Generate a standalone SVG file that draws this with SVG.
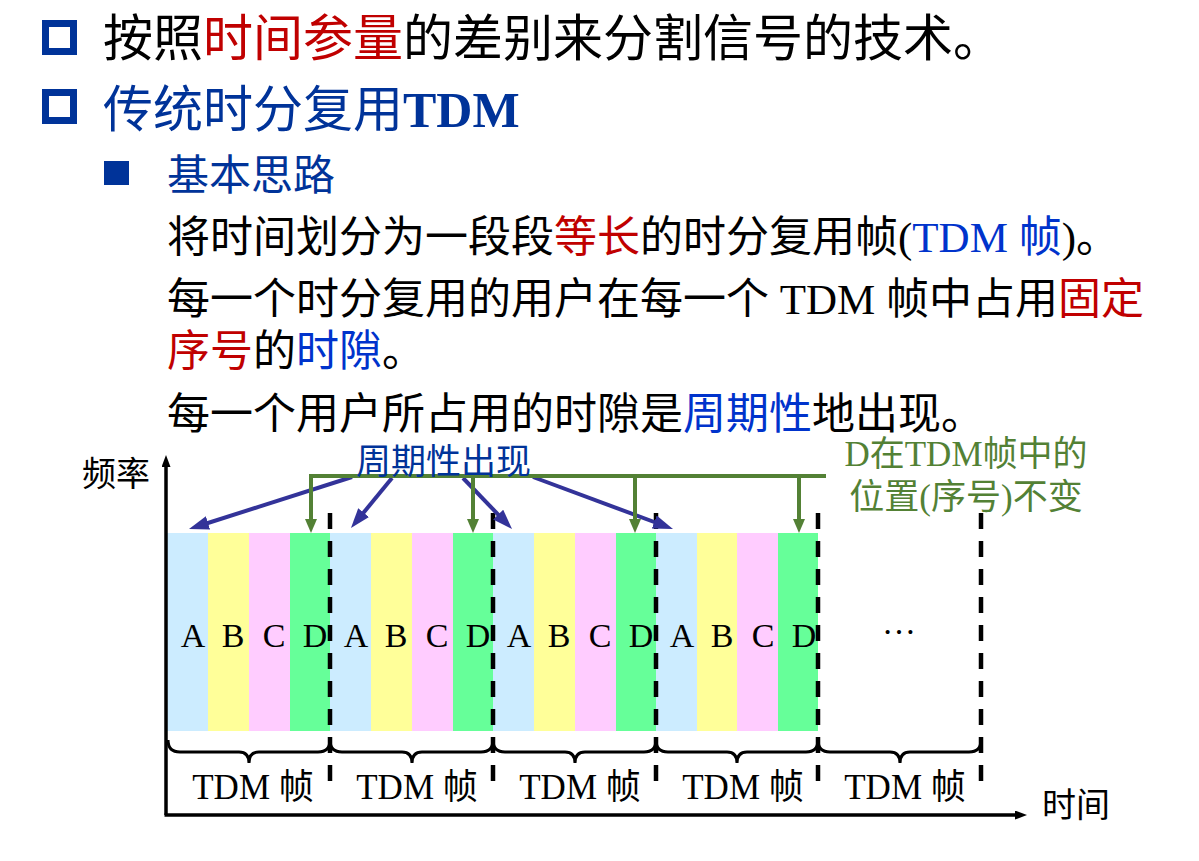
<svg xmlns="http://www.w3.org/2000/svg" width="1199" height="861" viewBox="0 0 1199 861">
<style>
.t{font-family:"Liberation Serif","Noto Sans CJK SC",serif;}
.h1{font-size:50px;}
.b{font-size:43px;fill:#000;}
.red{fill:#C00000;}
.dblue{fill:#003399;}
.lblue{fill:#0033CC;}
.slot{stroke:none;}
.sa{fill:#CCECFF;}.sb{fill:#FFFF99;}.sc{fill:#FFCCFF;}.sd{fill:#66FF99;}
.lbl{font-size:34px;fill:#000;text-anchor:middle;}
.fr{font-size:35px;fill:#000;text-anchor:middle;}
.dash{stroke:#000;stroke-width:4.5;stroke-dasharray:16 12;fill:none;}
.brace{stroke:#000;stroke-width:3;fill:none;}
.axis{stroke:#000;stroke-width:3.5;fill:none;}
.barr{stroke:#333399;stroke-width:4;fill:none;}
.garr{stroke:#538135;stroke-width:4;fill:none;}
</style>
<defs>
<marker id="mb" viewBox="0 0 20 14" refX="10" refY="7" markerWidth="20" markerHeight="14" markerUnits="userSpaceOnUse" orient="auto"><path d="M0,0 L20,7 L0,14 z" fill="#333399"/></marker>
<marker id="mg" viewBox="0 0 14 12" refX="7" refY="6" markerWidth="14" markerHeight="12" markerUnits="userSpaceOnUse" orient="auto"><path d="M0,0 L14,6 L0,12 z" fill="#538135"/></marker>
<marker id="mk" viewBox="0 0 12 9" refX="4" refY="4.5" markerWidth="12" markerHeight="9" markerUnits="userSpaceOnUse" orient="auto"><path d="M0,0 L12,4.5 L0,9 z" fill="#000"/></marker>
</defs>

<g id="bullets">
<rect x="45.5" y="23.5" width="28" height="28" fill="none" stroke="#003399" stroke-width="7"/>
<rect x="45.5" y="92.5" width="28" height="28" fill="none" stroke="#003399" stroke-width="7"/>
<rect x="104" y="161" width="25" height="24" fill="#003399"/>
</g>

<g id="text">
<text class="t h1" x="103" y="56">按照<tspan class="red">时间参量</tspan>的差别来分割信号的技术。</text>
<text class="t h1 dblue" x="103" y="127">传统时分复用<tspan font-weight="bold">TDM</tspan></text>
<text class="t dblue" font-size="42" x="167" y="190">基本思路</text>
<text class="t b" x="167" y="252">将时间划分为一段段<tspan class="red">等长</tspan>的时分复用帧(<tspan class="lblue">TDM 帧</tspan>)。</text>
<text class="t b" x="167" y="314">每一个时分复用的用户在每一个 TDM 帧中占用<tspan class="red">固定</tspan></text>
<text class="t b" x="167" y="366"><tspan class="red">序号</tspan>的<tspan class="lblue">时隙</tspan>。</text>
<text class="t b" x="167" y="429">每一个用户所占用的时隙是<tspan class="lblue">周期性</tspan>地出现。</text>
</g>

<g id="slots">
<rect class="slot sa" x="167" y="533" width="41" height="198"/>
<rect class="slot sb" x="208" y="533" width="41" height="198"/>
<rect class="slot sc" x="249" y="533" width="41" height="198"/>
<rect class="slot sd" x="290" y="533" width="40" height="198"/>
<rect class="slot sa" x="330" y="533" width="41" height="198"/>
<rect class="slot sb" x="371" y="533" width="41" height="198"/>
<rect class="slot sc" x="412" y="533" width="41" height="198"/>
<rect class="slot sd" x="453" y="533" width="40" height="198"/>
<rect class="slot sa" x="493" y="533" width="41" height="198"/>
<rect class="slot sb" x="534" y="533" width="41" height="198"/>
<rect class="slot sc" x="575" y="533" width="41" height="198"/>
<rect class="slot sd" x="616" y="533" width="40" height="198"/>
<rect class="slot sa" x="656" y="533" width="41" height="198"/>
<rect class="slot sb" x="697" y="533" width="40" height="198"/>
<rect class="slot sc" x="737" y="533" width="41" height="198"/>
<rect class="slot sd" x="778" y="533" width="40" height="198"/>
</g>

<g id="slot-labels" class="t">
<text class="lbl" x="193" y="647">A</text><text class="lbl" x="233" y="647">B</text><text class="lbl" x="274" y="647">C</text><text class="lbl" x="315" y="647">D</text>
<text class="lbl" x="356" y="647">A</text><text class="lbl" x="396" y="647">B</text><text class="lbl" x="437" y="647">C</text><text class="lbl" x="478" y="647">D</text>
<text class="lbl" x="519" y="647">A</text><text class="lbl" x="559" y="647">B</text><text class="lbl" x="600" y="647">C</text><text class="lbl" x="641" y="647">D</text>
<text class="lbl" x="682" y="647">A</text><text class="lbl" x="722" y="647">B</text><text class="lbl" x="763" y="647">C</text><text class="lbl" x="804" y="647">D</text>
<text class="lbl" x="899" y="634" font-size="36">…</text>
</g>

<g id="frames">
<path class="dash" d="M330,513 V781 M493,513 V781 M656,513 V781 M818,513 V781 M981,513 V781"/>
<path class="brace" d="M168,740 Q168,752 180,752 L239,752 Q249,752 249,763 Q249,752 259,752 L318,752 Q330,752 330,740"/>
<path class="brace" d="M330,740 Q330,752 342,752 L402,752 Q412,752 412,763 Q412,752 422,752 L481,752 Q493,752 493,740"/>
<path class="brace" d="M493,740 Q493,752 505,752 L565,752 Q575,752 575,763 Q575,752 585,752 L644,752 Q656,752 656,740"/>
<path class="brace" d="M656,740 Q656,752 668,752 L727,752 Q737,752 737,763 Q737,752 747,752 L806,752 Q818,752 818,740"/>
<path class="brace" d="M818,740 Q818,752 830,752 L890,752 Q900,752 900,763 Q900,752 910,752 L969,752 Q981,752 981,740"/>
<text class="t fr" x="253" y="799">TDM 帧</text>
<text class="t fr" x="417" y="799">TDM 帧</text>
<text class="t fr" x="580" y="799">TDM 帧</text>
<text class="t fr" x="743" y="799">TDM 帧</text>
<text class="t fr" x="905" y="799">TDM 帧</text>
</g>

<g id="axes">
<path class="axis" d="M166,815 V463" marker-end="url(#mk)"/>
<path class="axis" d="M164.5,815 H1019" marker-end="url(#mk)"/>
<text class="t" font-size="34" x="82" y="486">频率</text>
<text class="t" font-size="34" x="1042" y="817">时间</text>
</g>

<g id="connectors">
<path class="barr" d="M352,477 L198.5,526" marker-end="url(#mb)"/>
<path class="barr" d="M392,478 L357.3,520.3" marker-end="url(#mb)"/>
<path class="barr" d="M463,478 L505.1,521.8" marker-end="url(#mb)"/>
<path class="barr" d="M533,477 L663.6,525.5" marker-end="url(#mb)"/>
<path class="garr" d="M311,478 V526" marker-end="url(#mg)"/>
<path class="garr" d="M473,478 V526" marker-end="url(#mg)"/>
<path class="garr" d="M635,478 V526" marker-end="url(#mg)"/>
<path class="garr" d="M799,478 V526" marker-end="url(#mg)"/>
<path class="garr" d="M309,476 H826"/>
</g>

<g id="annotations">
<text class="t dblue" font-size="35" x="356" y="474">周期性出现</text>
<text class="t" font-size="35" fill="#538135" text-anchor="middle" x="966" y="466">D在TDM帧中的</text>
<text class="t" font-size="35" fill="#538135" text-anchor="middle" x="966" y="509">位置(序号)不变</text>
</g>
</svg>
